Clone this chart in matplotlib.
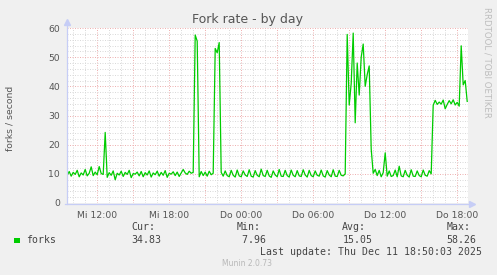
import pandas as pd
import matplotlib
matplotlib.use('Agg')
from matplotlib import pyplot as plt
from matplotlib.patches import Rectangle


# Munin "Fork rate - by day", Werte alle 10 Minuten ab Mi 09:30
forks = [
    9.5, 10.8, 9.2, 10.5, 9.8, 11.2,
    9.0, 10.3, 9.6, 11.5, 9.3, 10.2,
    12.4, 9.4, 10.6, 9.7, 12.5, 10.1,
    9.8, 24.2, 8.8, 10.4, 9.5, 11.0,
    7.96, 10.2, 9.6, 10.9, 9.1, 10.5,
    9.8, 11.2, 8.7, 10.1, 9.9, 10.6,
    9.3, 10.8, 9.0, 10.4, 9.6, 11.0,
    8.9, 10.3, 9.7, 10.9, 9.2, 10.5,
    9.5, 11.1, 8.8, 10.2, 9.9, 10.7,
    9.4, 10.6, 9.1, 10.3, 11.5, 10.3,
    9.8, 10.9, 10.2, 10.5, 57.6, 55.5,
    9.0, 10.8, 9.4, 10.6, 9.2, 10.9,
    9.7, 10.2, 53.0, 51.5, 55.0, 10.5,
    9.2, 11.0, 9.4, 9.0, 11.2, 9.5,
    8.9, 11.3, 9.3, 9.0, 11.0, 9.6,
    9.1, 11.4, 9.2, 8.9, 11.1, 9.5,
    9.0, 11.6, 9.4, 9.1, 11.2, 9.3,
    8.8, 11.0, 9.6, 9.0, 11.5, 9.2,
    9.1, 11.2, 9.4, 8.9, 11.3, 9.5,
    9.0, 11.1, 9.3, 9.1, 11.4, 9.6,
    8.9, 11.2, 9.4, 9.0, 11.0, 9.5,
    9.2, 11.3, 9.3, 8.9, 11.1, 9.6,
    9.0, 11.4, 9.2, 9.1, 11.2, 9.5,
    9.3, 10.0, 57.8, 33.6, 41.0, 58.26,
    27.5, 48.0, 37.0, 50.0, 54.5, 40.0,
    44.0, 47.0, 18.5, 10.2, 11.5, 9.4,
    11.2, 9.0, 10.4, 17.2, 9.2, 11.0,
    9.1, 9.4, 11.3, 9.0, 12.6, 9.3,
    9.0, 11.2, 9.5, 8.9, 11.4, 9.2,
    9.1, 11.0, 9.4, 9.0, 11.3, 9.5,
    9.2, 11.1, 10.0, 33.5, 35.2, 33.8,
    34.6, 33.9, 35.3, 32.3, 33.8, 35.1,
    34.0, 35.4, 33.6, 34.5, 33.2, 53.9,
    40.5, 42.0, 34.83,
]
times = pd.date_range('2025-12-10 09:30', periods=len(forks), freq='10min')

tick_times = pd.to_datetime(['2025-12-10 12:00', '2025-12-10 18:00', '2025-12-11 00:00',
                             '2025-12-11 06:00', '2025-12-11 12:00', '2025-12-11 18:00'])
tick_labels = ['Mi 12:00', 'Mi 18:00', 'Do 00:00', 'Do 06:00', 'Do 12:00', 'Do 18:00']
y_ticks = [0, 10, 20, 30, 40, 50, 60]

stat_names = ['Cur:', 'Min:', 'Avg:', 'Max:']
stat_values = ['34.83', ' 7.96', '15.05', '58.26']

W, H = 497, 275


def px(x, y):
    # Pixelkoordinaten -> Figurkoordinaten
    return x / W, 1 - y / H


fig = plt.figure(figsize=(W / 100, H / 100), dpi=100, facecolor='#f0f0f0')
ax = fig.add_axes([67 / W, 1 - 203 / H, (468 - 67) / W, 175 / H])
ax.set_facecolor('white')

x0 = pd.Timestamp('2025-12-10 09:29')
x1 = pd.Timestamp('2025-12-11 18:54')
ax.set_xlim(x0, x1)
ax.set_ylim(0, 60)

# Raster: fein grau, grob rot
dots = (0, (1, 1.5))
for h in pd.date_range('2025-12-10 10:00', '2025-12-11 18:00', freq='1h'):
    major = h.hour % 3 == 0
    ax.axvline(h, color='#eeb2b2' if major else '#dadada', lw=0.72, ls=dots, zorder=1)
for v in range(2, 61, 2):
    ax.axhline(v, color='#eeb2b2' if v % 10 == 0 else '#dadada', lw=0.72, ls=dots, zorder=1)

ax.plot(times, forks, color='#00cc00', lw=0.9, zorder=3)

for s in ax.spines.values():
    s.set_visible(False)
ax.set_xticks(tick_times)
ax.set_xticklabels(tick_labels)
ax.set_yticks(y_ticks)
ax.tick_params(length=0, labelsize=6.7, labelcolor='#555555', pad=5)
ax.tick_params(axis='x', pad=6)

# Achsen mit Pfeilen
axis_col = '#c6cdf6'
fig.add_artist(plt.Line2D([66.5 / W, 66.5 / W], [1 - 204 / H, 1 - 23 / H], color=axis_col, lw=0.9))
fig.add_artist(plt.Line2D([65 / W, 471 / W], [1 - 203.5 / H, 1 - 203.5 / H], color=axis_col, lw=0.9))
fig.add_artist(plt.Line2D([66.5 / W], [1 - 22 / H], marker='^', ms=5, color=axis_col, lw=0))
fig.add_artist(plt.Line2D([472 / W], [1 - 203.5 / H], marker='>', ms=5, color=axis_col, lw=0))

fig.text(*px(248, 20), 'Fork rate - by day', ha='center', va='center', fontsize=9, color='#555555')
fig.text(*px(10, 118), 'forks / second', rotation=90, ha='center', va='center',
         fontsize=6.7, color='#555555')
fig.text(*px(487, 7), 'RRDTOOL / TOBI OETIKER', rotation=270, ha='center', va='top',
         fontsize=6.2, color='#bdbdbd')

# Legende
mono = 'DejaVu Sans Mono'
fig.patches.append(Rectangle(px(14, 242.5), 6 / W, 5 / H, transform=fig.transFigure,
                             facecolor='#00cc00', edgecolor='none'))
fig.text(*px(26.5, 240), 'forks', family=mono, fontsize=7.1, color='#444444', va='center')
for x, name, val in zip([131.5, 236.5, 342.3, 446.7], stat_names, stat_values):
    fig.text(*px(x, 227.5), name, family=mono, fontsize=7.1, color='#444444', va='center')
    fig.text(*px(x, 240), val, family=mono, fontsize=7.1, color='#444444', va='center')
fig.text(*px(482.5, 252), 'Last update: Thu Dec 11 18:50:03 2025', family=mono, fontsize=7.1,
         color='#444444', ha='right', va='center')
fig.text(*px(247.5, 264), 'Munin 2.0.73', ha='center', va='center', fontsize=5.5, color='#b8b8b8')

fig.savefig('out.png', dpi=100, facecolor=fig.get_facecolor())
